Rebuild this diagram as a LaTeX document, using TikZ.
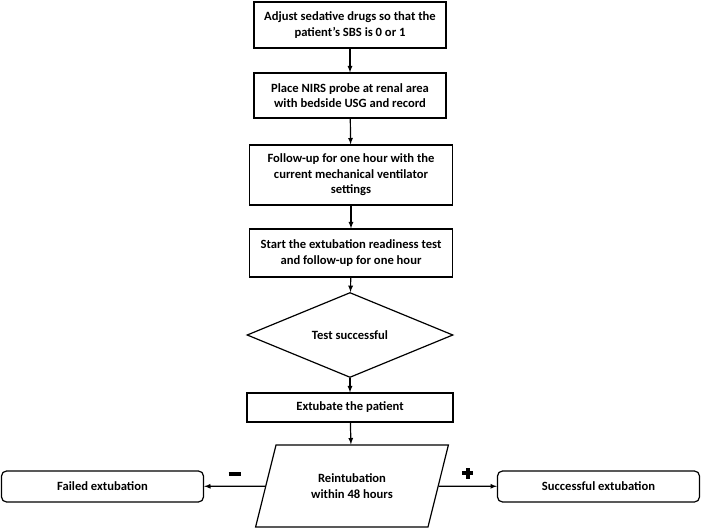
\documentclass[tikz,border=0pt]{standalone}
\usepackage{fontspec}
\setmainfont{Carlito}
\usetikzlibrary{shapes.geometric}

\newcommand{\minussign}{\rule{12pt}{4pt}}
\newcommand{\plussign}{\makebox[11pt][c]{\rule[3.5pt]{11pt}{4pt}}\hspace{-11pt}\makebox[11pt][c]{\rule{4pt}{11pt}}}

\begin{document}
\begin{tikzpicture}[x = 1pt, y = -1pt, > = latex, line width = 1.2pt,
	stepbox/.style = {draw, align = center, inner sep = 2pt, font = \bfseries\fontsize{12.6}{15.5}\selectfont},
	outcome/.style = {stepbox, rounded corners = 5pt, minimum width = 202pt, minimum height = 31pt},
	sign/.style = {inner sep = 1pt}]

	\useasboundingbox (0, 0) rectangle (702, 529);

	% Preparation steps

	\node [stepbox, minimum width = 192pt, minimum height = 46pt] (adjust) at (350, 25) {Adjust sedative drugs so that the\\patient's SBS is 0 or 1};
	\node [stepbox, minimum width = 192pt, minimum height = 45pt] (probe) at (350, 95.5) {Place NIRS probe at renal area\\with bedside USG and record};
	\node [stepbox, minimum width = 203pt, minimum height = 60pt] (follow) at (351, 175) {Follow-up for one hour with the\\current mechanical ventilator\\settings};
	\node [stepbox, minimum width = 203pt, minimum height = 48pt] (start) at (351, 253) {Start the extubation readiness test\\and follow-up for one hour};

	% Decision and extubation

	\node [stepbox, diamond, inner sep = 0pt, minimum width = 206pt, minimum height = 66pt] (test) at (350, 335) {Test successful};
	\node [stepbox, minimum width = 206pt, minimum height = 29pt] (extubate) at (350, 407.5) {Extubate the patient};
	\node [stepbox, trapezium, trapezium left angle = 68, trapezium right angle = 112, trapezium stretches = true, minimum width = 193pt, minimum height = 82pt] (reint) at (352, 486) {Reintubation\\within 48 hours};

	% Outcomes

	\node [outcome] (failed) at (102.5, 486.5) {Failed extubation};
	\node [outcome] (success) at (598.5, 486.5) {Successful extubation};

	% Arrows

	\draw [->] (adjust) -- (probe);
	\draw [->] (probe) -- (follow);
	\draw [->] (follow) -- (start);
	\draw [->] (start) -- (test);
	\draw [->] (test) -- (extubate);
	\draw [->] (extubate) -- (reint);
	\draw [->] (reint) -- node [sign, above = 9pt] {\minussign} (failed);
	\draw [->] (reint) -- node [sign, above = 6pt] {\plussign} (success);

\end{tikzpicture}
\end{document}
